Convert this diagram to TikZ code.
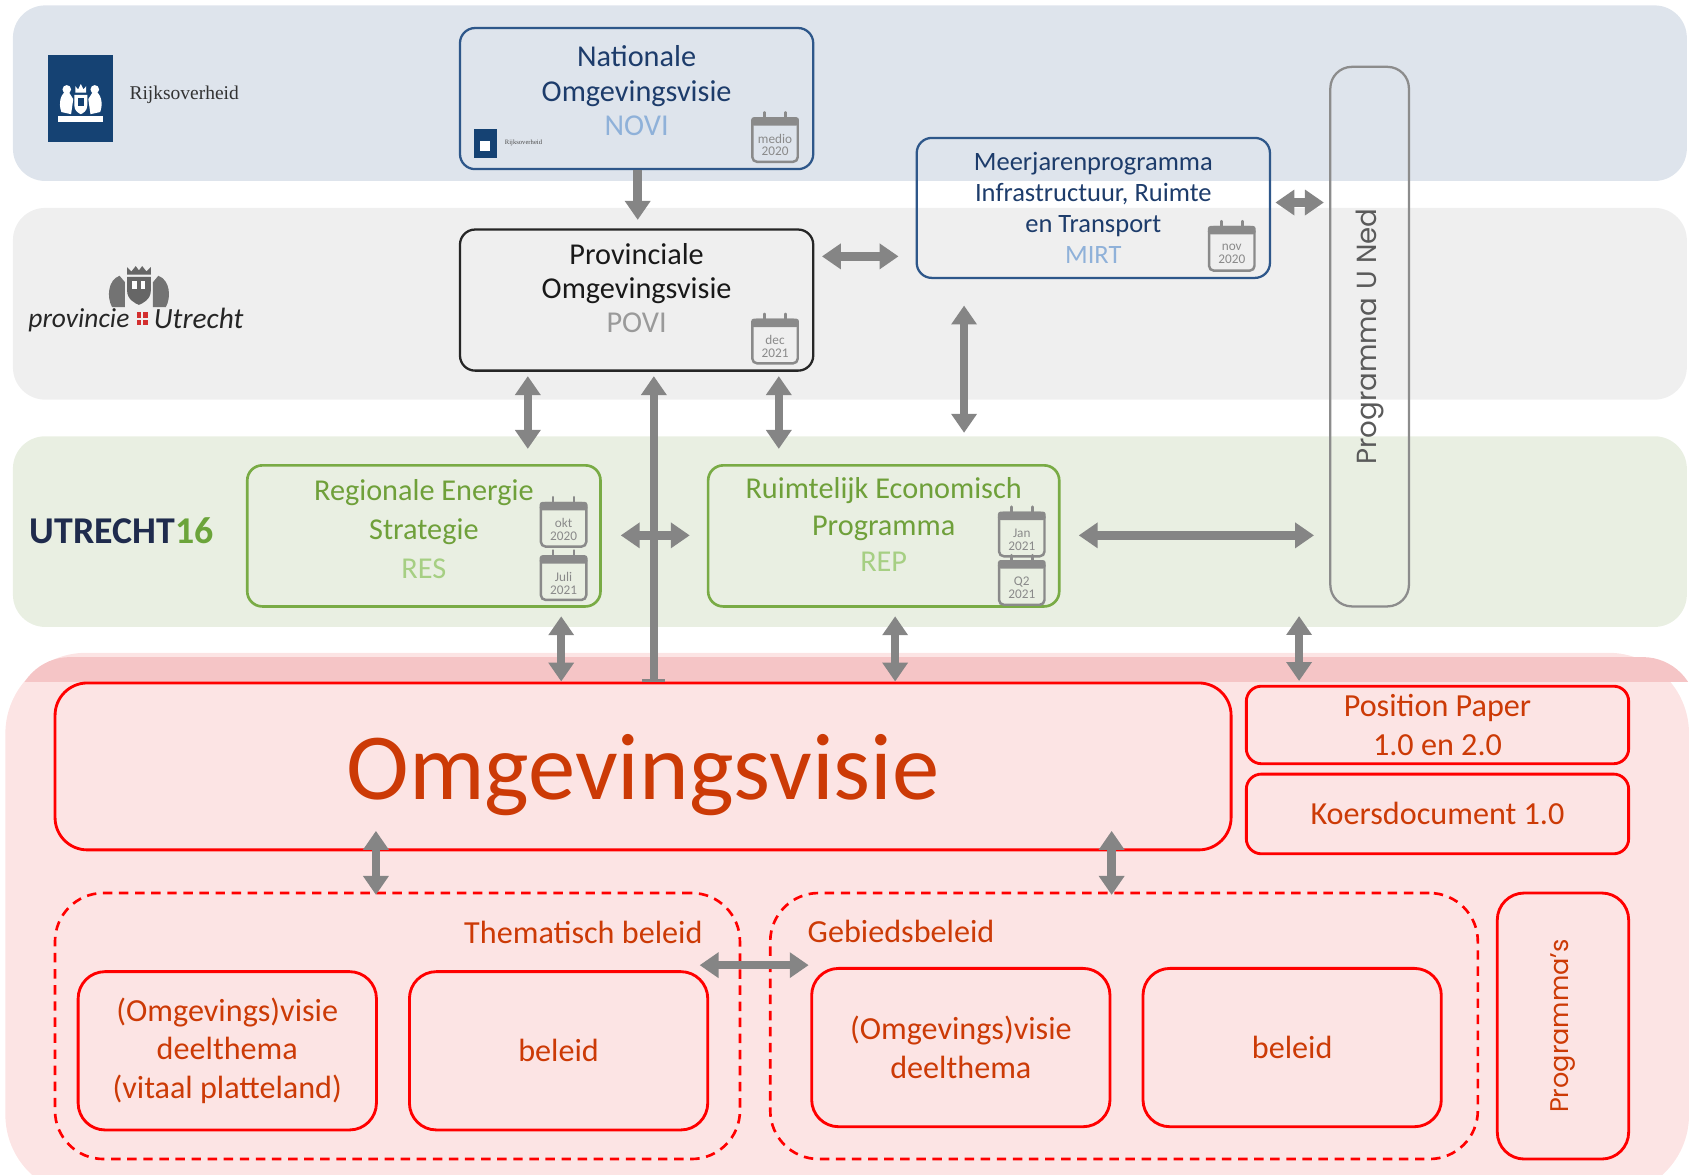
\documentclass[tikz,border=0pt]{standalone}
\usepackage{fontspec}
\setmainfont{Carlito}
\newfontfamily\geofont{Poppins}
\newfontfamily\rijkfont{Liberation Serif}
\usepackage{tikz}
\usetikzlibrary{positioning, arrows.meta, calc}

\definecolor{bandblue}{HTML}{DEE4EC}
\definecolor{bandgray}{HTML}{EFEFEF}
\definecolor{bandgreen}{HTML}{E9EFE2}
\definecolor{pinkbg}{HTML}{FCE4E4}
\definecolor{pinkstrip}{HTML}{F5C5C6}
\definecolor{redline}{HTML}{FF0000}
\definecolor{redtxt}{HTML}{CC3A06}
\definecolor{arrowgray}{HTML}{858585}
\definecolor{novinavy}{HTML}{1D3C6B}
\definecolor{noviborder}{HTML}{2E578A}
\definecolor{noviblue}{HTML}{8FB1D9}
\definecolor{povigray}{HTML}{9A9A9A}
\definecolor{resgreen}{HTML}{6FA03A}
\definecolor{resborder}{HTML}{79AB45}
\definecolor{reslight}{HTML}{A6CF83}
\definecolor{unedgray}{HTML}{8C8C8C}
\definecolor{unedtxt}{HTML}{5A5A5A}
\definecolor{calgray}{HTML}{8A8A8A}
\definecolor{rijkblue}{HTML}{154273}
\definecolor{utrnavy}{HTML}{1F2B4D}
\definecolor{utrgreen}{HTML}{6BA43A}
\definecolor{provred}{HTML}{D32F2F}

% calendar icon: name, position, two lines of text
\newcommand{\calicon}[4]{%
  \node[cal] (#1) at (#2) {};
  \fill[calgray, rounded corners=1.5pt] (#1.north west) rectangle ([yshift=-4.5pt]#1.north east);
  \draw[calgray, line width=1.4pt, line cap=round]
    ([xshift=-5.5pt, yshift=2.5pt]#1.north) -- ([xshift=-5.5pt, yshift=-2pt]#1.north)
    ([xshift=5.5pt, yshift=2.5pt]#1.north) -- ([xshift=5.5pt, yshift=-2pt]#1.north);
  \node[caltext] at ([yshift=-2.6pt]#1.center) {#3\\#4};
}

\begin{document}
\begin{tikzpicture}[x = 0.02cm, y = -0.02cm,
    every node/.style = { align = center, inner sep = 2pt },
    topbox/.style = { draw, line width = 1.2pt, rounded corners = 0.28cm,
      minimum width = 6.56cm, minimum height = 2.62cm,
      font = \fontsize{16}{18}\selectfont },
    bluebox/.style = { topbox, draw = noviborder, text = novinavy },
    blackbox/.style = { topbox, draw = black!85, text = black!90 },
    greenbox/.style = { topbox, draw = resborder, text = resgreen, line width = 1.4pt,
      font = \fontsize{16}{20.5}\selectfont },
    unedbox/.style = { draw = unedgray, line width = 1.2pt, rounded corners = 0.4cm,
      minimum width = 1.46cm, minimum height = 10.02cm, text = unedtxt,
      font = \geofont\fontsize{14.6}{18}\selectfont },
    redbox/.style = { draw = redline, line width = 1.5pt, text = redtxt,
      font = \fontsize{17}{20.5}\selectfont },
    innerbox/.style = { redbox, rounded corners = 0.5cm,
      minimum width = 5.54cm, minimum height = 2.94cm },
    dashbox/.style = { draw = redline, line width = 1.4pt, dash pattern = on 5pt off 3.5pt,
      rounded corners = 0.9cm, minimum height = 4.94cm },
    cal/.style = { draw = calgray, line width = 1.3pt, rounded corners = 2.5pt,
      minimum width = 24pt, minimum height = 23pt, inner sep = 0pt },
    caltext/.style = { text = calgray, font = \fontsize{7}{6.8}\selectfont, inner sep = 0pt },
    conn/.style = { draw = arrowgray, line width = 4.5pt, -{Triangle[width = 13pt, length = 10pt]} },
    biconn/.style = { conn, {Triangle[width = 13pt, length = 10pt]}-{Triangle[width = 13pt, length = 10pt]} },
    barconn/.style = { conn, {Bar[width = 12pt, line width = 1.6pt]}-{Triangle[width = 13pt, length = 10pt]} }
  ]
  \useasboundingbox (0,0) rectangle (1568,1090);

  % bands
  \fill[bandblue, rounded corners = 0.6cm] (12,5) rectangle (1566,168);
  \fill[bandgray, rounded corners = 0.6cm] (12,193) rectangle (1566,371);
  \fill[bandgreen, rounded corners = 0.6cm] (12,405) rectangle (1566,582);
  \fill[pinkbg, rounded corners = 1.5cm] (5,606) rectangle (1568,1110);
  \begin{scope}
    \clip (0,600) rectangle (1568,633);
    \fill[pinkstrip, rounded corners = 1cm] (15,610) rectangle (1575,700);
  \end{scope}

  % logos
  \fill[rijkblue] (45,51) rectangle (105,132);
  \fill[white] (70,86) -- (70,80) -- (72.5,83) -- (75,78) -- (77.5,83) -- (80,80) -- (80,86) -- cycle;
  \fill[white] (69,88) -- (81,88) -- (81,98) .. controls (81,103) and (77,105) .. (75,106)
    .. controls (73,105) and (69,103) .. (69,98) -- cycle;
  \fill[rijkblue] (72,91) rectangle (78,98);
  \fill[white] (63,84) .. controls (56,86) and (54,96) .. (57,104) -- (66,106) -- (68,92) -- cycle;
  \fill[white] (87,84) .. controls (94,86) and (96,96) .. (93,104) -- (84,106) -- (82,92) -- cycle;
  \fill[white] (62,83) circle [radius = 0.08cm];
  \fill[white] (88,83) circle [radius = 0.08cm];
  \fill[white] (54,108) rectangle (96,113);
  \node[font = \rijkfont\fontsize{10.3}{12}\selectfont, text = black!80] (RijkTxt) at (171,88) {Rijksoverheid};

  \fill[black!60] (118,248) -- (122,252) -- (126,247) -- (129,251) -- (132,247) -- (136,252) -- (140,248) -- (140,255) -- (118,255) -- cycle;
  \fill[black!60] (118,257) -- (140,257) -- (140,270) .. controls (140,278) and (132,282) .. (129,283)
    .. controls (126,282) and (118,278) .. (118,270) -- cycle;
  \fill[white] (123,261) rectangle (127,268);
  \fill[white] (131,261) rectangle (135,268);
  \fill[black!55] (111,256) .. controls (100,260) and (99,276) .. (104,285) -- (116,285) -- (116,262) -- cycle;
  \fill[black!55] (147,256) .. controls (158,260) and (159,276) .. (154,285) -- (142,285) -- (142,262) -- cycle;
  \node[anchor = east, font = \itshape\fontsize{14.5}{16}\selectfont, text = black!85] (ProvTxt) at (124,297) {provincie};
  \node[anchor = west, font = \itshape\fontsize{15.5}{16}\selectfont, text = black!85] (UtrTxt) at (139,296) {Utrecht};
  \fill[provred] (127,290) rectangle (131,295);
  \fill[provred] (133,290) rectangle (137,295);
  \fill[provred] (127,297) rectangle (131,302);
  \fill[provred] (133,297) rectangle (137,302);

  \node[font = \bfseries\fontsize{20}{22}\selectfont] (Utr16) at (113,493)
    {\textcolor{utrnavy}{UTRECHT}\textcolor{utrgreen}{16}};

  % top boxes
  \node[bluebox] (NOVI) at (591,91.5) {Nationale\\Omgevingsvisie\\\textcolor{noviblue}{NOVI}\\[-9.5pt]\mbox{}};
  \node[blackbox, below = 1.08cm of NOVI] (POVI) {Provinciale\\Omgevingsvisie\\\textcolor{povigray}{POVI}\\[-5.5pt]\mbox{}};
  \node[bluebox, minimum height = 2.6cm, font = \fontsize{14}{16.5}\selectfont] (MIRT) at (1015,193)
    {Meerjarenprogramma\\Infrastructuur, Ruimte\\en Transport\\\textcolor{noviblue}{MIRT}};
  \node[unedbox] (UNed) at (1271.5,312.5) {\rotatebox{90}{Programma U Ned}};
  \node[greenbox] (RES) at (393.5,497.5) {Regionale Energie\\Strategie\\\textcolor{reslight}{RES}\\[-13pt]\mbox{}};
  \node[greenbox, right = 1.95cm of RES, minimum width = 6.52cm, font = \fontsize{16}{19.3}\selectfont] (REP)
    {Ruimtelijk Economisch\\Programma\\\textcolor{reslight}{REP}\\[-7.3pt]\mbox{}};

  \fill[rijkblue] (440,120) rectangle (461,147);
  \fill[white] (446,131) rectangle (455,140);
  \node[font = \rijkfont\fontsize{3.5}{4}\selectfont, text = black!70] (NoviLogo) at (486,133) {Rijksoverheid};

  \calicon{calNOVI}{$(NOVI.south east)+(-36.5,-28)$}{medio}{2020}
  \calicon{calPOVI}{$(POVI.south east)+(-36.5,-28)$}{dec}{2021}
  \calicon{calMIRT}{$(MIRT.south east)+(-36.5,-28)$}{nov}{2020}
  \calicon{calRESa}{$(RES.south east)+(-35.5,-77)$}{okt}{2020}
  \calicon{calRESb}{$(RES.south east)+(-35.5,-27.5)$}{Juli}{2021}
  \calicon{calREPa}{$(REP.south east)+(-36,-68)$}{Jan}{2021}
  \calicon{calREPb}{$(REP.south east)+(-36,-23)$}{Q2}{2021}

  % red part
  \node[redbox, rounded corners = 0.6cm, minimum width = 21.84cm, minimum height = 3.1cm,
    font = \fontsize{50}{50}\selectfont] (Omg) at (597,711.5)
    {\raisebox{-4.8pt}[\height][\depth]{Omgevingsvisie}};
  \node[redbox, rounded corners = 0.28cm, minimum width = 7.1cm, minimum height = 1.44cm] (PosPaper)
    at (1334.5,673) {Position Paper\\1.0 en 2.0};
  \node[redbox, rounded corners = 0.28cm, minimum width = 7.1cm, minimum height = 1.48cm,
    below = 0.14cm of PosPaper] (Koers) {Koersdocument 1.0};
  \node[dashbox, minimum width = 12.72cm] (Them) at (369,952.5) {};
  \node[dashbox, minimum width = 13.14cm] (Geb) at (1043.5,952.5) {};
  \node[redbox, rounded corners = 0.5cm, minimum width = 2.44cm, minimum height = 4.94cm,
    font = \geofont\fontsize{13.5}{16}\selectfont] (Progs) at (1451,952.5) {\rotatebox{90}{Programma’s}};
  \node[redbox, draw = none, anchor = east] (ThemLbl) at (657,866) {Thematisch beleid};
  \node[redbox, draw = none, anchor = west] (GebLbl) at (745,865) {Gebiedsbeleid};
  \node[innerbox] (ThemA) at (211,975.5) {(Omgevings)visie\\deelthema\\(vitaal platteland)};
  \node[innerbox, right = 0.56cm of ThemA] (ThemB) {beleid};
  \node[innerbox] (GebA) at (892,972.5) {(Omgevings)visie\\deelthema};
  \node[innerbox, right = 0.56cm of GebA] (GebB) {beleid};

  % connectors
  \coordinate (yA) at (0,238);
  \coordinate (yB) at (0,188);
  \coordinate (yC) at (0,497);
  \coordinate (yD) at (0,896);
  \coordinate (x1) at (592,0);
  \coordinate (x2) at (490,0);
  \coordinate (x3) at (723,0);
  \coordinate (x4) at (607,0);
  \coordinate (x5) at (895,0);
  \coordinate (x6) at (521,0);
  \coordinate (x7) at (831,0);
  \coordinate (x8) at (1206,0);
  \coordinate (x9) at (349,0);
  \coordinate (x10) at (1032,0);

  \draw[conn, shorten >= 4.5pt] (NOVI.south -| x1) -- (POVI.north -| x1);
  \draw[biconn, shorten <= 4pt, shorten >= 9pt] (POVI.east |- yA) -- (MIRT.west |- yA);
  \draw[biconn, shorten <= 2.3pt, shorten >= 2.8pt] (MIRT.east |- yB) -- (UNed.west |- yB);
  \draw[biconn, shorten <= 2.3pt, shorten >= 8pt] (POVI.south -| x2) -- (RES.north -| x2);
  \draw[biconn, shorten <= 2.3pt, shorten >= 8pt] (POVI.south -| x3) -- (REP.north -| x3);
  \draw[biconn, shorten <= 14pt, shorten >= 16.5pt] (MIRT.south -| x5) -- (REP.north -| x5);
  \draw[biconn, shorten <= 10pt, shorten >= 9pt] (RES.east |- yC) -- (REP.west |- yC);
  \draw[biconn, shorten <= 9.6pt, shorten >= 8pt] (REP.east |- yC) -- (UNed.west |- yC);
  \draw[barconn, shorten >= 2.3pt] (Omg.north -| x4) -- (POVI.south -| x4);
  \draw[biconn, shorten <= 4.5pt] (RES.south -| x6) -- (Omg.north -| x6);
  \draw[biconn, shorten <= 4.5pt] (REP.south -| x7) -- (Omg.north -| x7);
  \draw[biconn, shorten <= 4.5pt, shorten >= 2pt] (UNed.south -| x8) -- (PosPaper.north -| x8);
  \draw[biconn, shorten <= -10.8pt, shorten >= -1.7pt] (Omg.south -| x9) -- (Them.north -| x9);
  \draw[biconn, shorten <= -10.8pt, shorten >= -1.7pt] (Omg.south -| x10) -- (Geb.north -| x10);
  \draw[biconn, shorten <= -22pt, shorten >= -21pt] (Them.east |- yD) -- (Geb.west |- yD);
\end{tikzpicture}
\end{document}
